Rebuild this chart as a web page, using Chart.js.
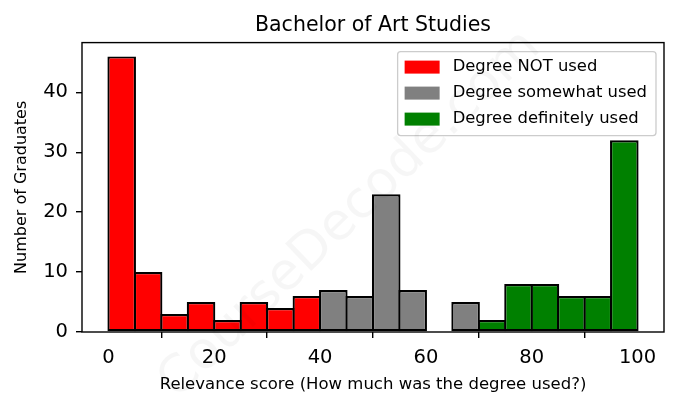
<!DOCTYPE html>
<html>
<head>
<meta charset="utf-8">
<script src="https://cdn.jsdelivr.net/npm/chart.js@4.4.0/dist/chart.umd.min.js"></script>
<style>
  body { margin: 0; background: #fff; }
  #wrap { width: 678px; height: 408px; }
</style>
</head>
<body>
<div id="wrap"><canvas id="chart" width="678" height="408"></canvas></div>
<script>
// histogram bins are 5 wide, values are the bin centres
const notUsedBins = [2.5, 7.5, 12.5, 17.5, 22.5, 27.5, 32.5, 37.5];
const notUsedCounts = [46, 10, 3, 5, 2, 5, 4, 6];

const somewhatBins = [42.5, 47.5, 52.5, 57.5, 62.5, 67.5];
const somewhatCounts = [7, 6, 23, 7, 0, 5];

const definitelyBins = [72.5, 77.5, 82.5, 87.5, 92.5, 97.5];
const definitelyCounts = [2, 8, 8, 6, 6, 32];

const xTickValues = [0, 20, 40, 60, 80, 100];
const yTickValues = [0, 10, 20, 30, 40];

const FONT = "'DejaVu Sans', sans-serif";

function points(bins, counts) {
    return bins.map((b, i) => ({ x: b, y: counts[i] }));
}

function makeSet(label, color, bins, counts) {
    return {
        label: label,
        data: points(bins, counts),
        backgroundColor: color,
        borderColor: '#000',
        borderWidth: 2.2,
        borderSkipped: false,
        grouped: false,
        barPercentage: 1.08,
        categoryPercentage: 1
    };
}

// top/right spines like matplotlib
const framePlugin = {
    id: 'frame',
    afterDatasetsDraw(chart) {
        const a = chart.chartArea;
        const ctx = chart.ctx;
        ctx.save();
        ctx.strokeStyle = '#000';
        ctx.lineWidth = 1.4;
        ctx.strokeRect(a.left, a.top, a.right - a.left, a.bottom - a.top);
        ctx.restore();
    }
};

// legend inside the axes, upper right
const boxLegend = {
    id: 'boxLegend',
    afterDraw(chart) {
        const ctx = chart.ctx;
        const a = chart.chartArea;
        const sets = chart.data.datasets;
        ctx.save();
        ctx.font = '16.4px ' + FONT;
        let maxW = 0;
        sets.forEach(s => { maxW = Math.max(maxW, ctx.measureText(s.label).width); });
        const w = 7 + 35 + 13 + maxW + 9;
        const h = 84;
        const x = a.right - 8 - w;
        const y = a.top + 9;

        ctx.beginPath();
        ctx.roundRect(x, y, w, h, 3);
        ctx.fillStyle = 'rgba(255,255,255,0.8)';
        ctx.fill();
        ctx.strokeStyle = '#cccccc';
        ctx.lineWidth = 1.3;
        ctx.stroke();

        ctx.textBaseline = 'middle';
        ctx.textAlign = 'left';
        sets.forEach((s, i) => {
            const cy = y + 15.5 + i * 26;
            ctx.fillStyle = s.backgroundColor;
            ctx.fillRect(x + 7, cy - 6.5, 35, 13);
            ctx.fillStyle = '#000';
            ctx.fillText(s.label, x + 55, cy);
        });
        ctx.restore();
    }
};

// faint site watermark across the picture
const watermark = {
    id: 'watermark',
    afterDraw(chart) {
        const ctx = chart.ctx;
        ctx.save();
        ctx.translate(350, 215);
        ctx.rotate(-0.765);
        ctx.font = '52px ' + FONT;
        ctx.fillStyle = 'rgba(0,0,0,0.035)';
        ctx.textAlign = 'center';
        ctx.textBaseline = 'middle';
        ctx.fillText('CourseDecode.com', 0, 0);
        ctx.restore();
    }
};

new Chart(document.getElementById('chart'), {
    type: 'bar',
    data: {
        datasets: [
            makeSet('Degree NOT used', '#ff0000', notUsedBins, notUsedCounts),
            makeSet('Degree somewhat used', '#808080', somewhatBins, somewhatCounts),
            makeSet('Degree definitely used', '#008000', definitelyBins, definitelyCounts)
        ]
    },
    options: {
        responsive: false,
        animation: false,
        layout: { padding: { left: 0, right: 14, top: 0, bottom: 0 } },
        plugins: {
            legend: { display: false },
            tooltip: { enabled: false },
            title: {
                display: true,
                fullSize: false,
                text: 'Bachelor of Art Studies',
                color: '#000',
                font: { family: FONT, size: 20.5, weight: 'normal' },
                padding: { top: 13.5, bottom: 4.5 }
            }
        },
        scales: {
            x: {
                type: 'linear',
                min: -5,
                max: 105,
                offset: false,
                afterBuildTicks(scale) {
                    scale.ticks = xTickValues.map(v => ({ value: v }));
                },
                afterFit(scale) { scale.height = 76; },
                ticks: {
                    color: '#000',
                    font: { family: FONT, size: 19.5 },
                    padding: 8,
                    maxRotation: 0
                },
                grid: {
                    drawOnChartArea: false,
                    drawTicks: true,
                    tickLength: 6,
                    color: '#000',
                    lineWidth: 1.4
                },
                border: { display: false },
                title: {
                    display: true,
                    text: 'Relevance score (How much was the degree used?)',
                    color: '#000',
                    font: { family: FONT, size: 16.5 },
                    padding: { top: 0, bottom: 13 }
                }
            },
            y: {
                min: 0,
                max: 48.3,
                afterBuildTicks(scale) {
                    scale.ticks = yTickValues.map(v => ({ value: v }));
                },
                afterFit(scale) { scale.width = 82; },
                ticks: {
                    color: '#000',
                    font: { family: FONT, size: 19.5 },
                    padding: 8
                },
                grid: {
                    drawOnChartArea: false,
                    drawTicks: true,
                    tickLength: 6,
                    color: '#000',
                    lineWidth: 1.4
                },
                border: { display: false },
                title: {
                    display: true,
                    text: 'Number of Graduates',
                    color: '#000',
                    font: { family: FONT, size: 16 },
                    padding: { top: 12, bottom: 0 }
                }
            }
        }
    },
    plugins: [framePlugin, boxLegend, watermark]
});
</script>
</body>
</html>
